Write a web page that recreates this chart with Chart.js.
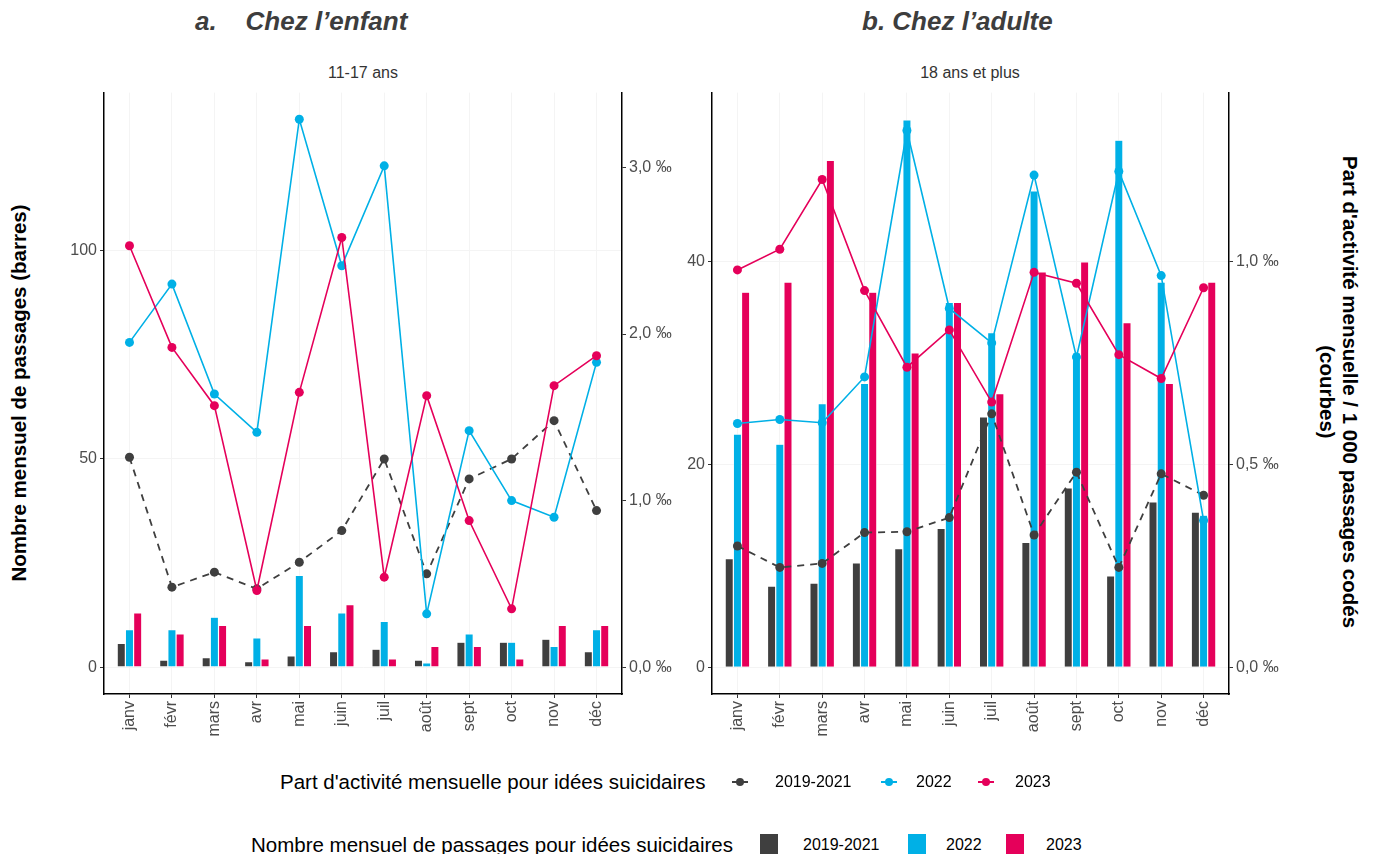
<!DOCTYPE html>
<html>
<head>
<meta charset="utf-8">
<script src="https://cdn.jsdelivr.net/npm/chart.js@4.4.0/dist/chart.umd.min.js"></script>
<style>
body { margin: 0; background: #fff; font-family: "Liberation Sans", Arial, sans-serif; }
#page { position: relative; width: 1374px; height: 854px; overflow: hidden; }
.abs { position: absolute; white-space: nowrap; }
.title { font-size: 26px; font-weight: bold; font-style: italic; color: #3d3d3d; top: 6px; }
.sub { font-size: 16px; color: #333; top: 64px; transform: translateX(-50%); }
.ytitle { font-size: 20.5px; font-weight: bold; color: #000; }
.leg { font-size: 20.5px; color: #000; }
.legy { font-size: 16px; color: #000; }
.sq { position: absolute; width: 18px; height: 22px; }
.box { position: absolute; }
</style>
</head>
<body>
<div id="page">
  <div class="abs title" style="left:195px">a.&nbsp;&nbsp;&nbsp; Chez l’enfant</div>
  <div class="abs title" style="left:862px">b. Chez l’adulte</div>
  <div class="abs sub" style="left:363px">11-17 ans</div>
  <div class="abs sub" style="left:970px">18 ans et plus</div>

  <div class="abs ytitle" style="left:19px;top:393px;transform:translate(-50%,-50%) rotate(-90deg)">Nombre mensuel de passages (barres)</div>
  <div class="abs ytitle" style="left:1339px;top:392px;transform:translate(-50%,-50%) rotate(90deg);text-align:center;line-height:23px">Part d'activité mensuelle / 1 000 passages codés<br>(courbes)</div>

  <div class="box" style="left:0;top:80px;width:690px;height:690px"><canvas id="child"></canvas></div>
  <div class="box" style="left:670px;top:80px;width:630px;height:690px"><canvas id="adult"></canvas></div>

  <div class="abs leg" style="left:280px;top:770px">Part d'activité mensuelle pour idées suicidaires</div>
  <div id="legLines"></div>
  <div class="abs leg" style="left:251px;top:833px">Nombre mensuel de passages pour idées suicidaires</div>
  <div id="legBars"></div>
</div>

<script>
const months = ['janv', 'févr', 'mars', 'avr', 'mai', 'juin', 'juil', 'août', 'sept', 'oct', 'nov', 'déc'];
const series = ['2019-2021', '2022', '2023'];
const colors = ['#3f3f3f', '#00b0e6', '#e5005a'];

// 11-17 ans : nombre mensuel de passages (barres)
const childCount2019 = [5.7, 1.7, 2.3, 1.3, 2.7, 3.7, 4.3, 1.7, 6, 6, 6.7, 3.7];
const childCount2022 = [9, 9, 12, 7, 22, 13, 11, 1, 8, 6, 5, 9];
const childCount2023 = [13, 8, 10, 2, 10, 15, 2, 5, 5, 2, 10, 10];
// 11-17 ans : part d'activité pour 1 000 passages (courbes)
const childRate2019 = [1.26, 0.48, 0.57, 0.47, 0.63, 0.82, 1.25, 0.56, 1.13, 1.25, 1.48, 0.94];
const childRate2022 = [1.95, 2.30, 1.64, 1.41, 3.29, 2.41, 3.01, 0.32, 1.42, 1.00, 0.90, 1.83];
const childRate2023 = [2.53, 1.92, 1.57, 0.46, 1.65, 2.58, 0.54, 1.63, 0.88, 0.35, 1.69, 1.87];

// 18 ans et plus
const adultCount2019 = [10.7, 8, 8.3, 10.3, 11.7, 13.7, 24.7, 12.3, 17.7, 9, 16.3, 15.3];
const adultCount2022 = [23, 22, 26, 28, 54, 36, 33, 47, 31, 52, 38, 15];
const adultCount2023 = [37, 38, 50, 37, 31, 36, 27, 39, 40, 34, 28, 38];
const adultRate2019 = [0.299, 0.246, 0.256, 0.332, 0.334, 0.369, 0.625, 0.326, 0.481, 0.246, 0.477, 0.424];
const adultRate2022 = [0.601, 0.611, 0.603, 0.716, 1.324, 0.885, 0.80, 1.214, 0.765, 1.223, 0.966, 0.362];
const adultRate2023 = [0.980, 1.031, 1.203, 0.929, 0.740, 0.832, 0.654, 0.974, 0.947, 0.771, 0.712, 0.936];

const childCountTicks = [0, 50, 100];
const childRateTicks = [0, 1, 2, 3];
const adultCountTicks = [0, 20, 40];
const adultRateTicks = [0, 0.5, 1];

const pts = arr => arr.map((v, i) => ({ x: i, y: v }));
const fmtRate = v => v.toFixed(1).replace('.', ',') + ' ‰';
const tickFont = { family: '"Liberation Sans", Arial, sans-serif', size: 16 };

function makeChart(id, counts, rates, countTicks, rateTicks, yMin, yMax, leftW, rightW) {
    const datasets = [];
    counts.forEach((c, k) => {
        datasets.push({
            type: 'bar', label: series[k], data: pts(c), yAxisID: 'y',
            backgroundColor: colors[k], borderColor: '#ffffff', borderWidth: 0.6,
            categoryPercentage: 0.58, barPercentage: 1.0, order: 10
        });
    });
    rates.forEach((r, k) => {
        datasets.push({
            type: 'line', label: series[k], data: pts(r), yAxisID: 'y2',
            borderColor: colors[k], backgroundColor: colors[k], borderWidth: k === 0 ? 1.8 : 1.6,
            borderDash: k === 0 ? [7, 6] : [], pointRadius: 4.5, pointBorderWidth: 0,
            tension: 0, order: 3 - k
        });
    });
    // both axes share the same ratio: 40 passages = 1 ‰
    return new Chart(document.getElementById(id), {
        type: 'bar',
        data: { datasets },
        options: {
            responsive: true, maintainAspectRatio: false, animation: false,
            layout: { padding: { top: 10, left: 0, right: 0, bottom: 0 } },
            plugins: { legend: { display: false }, tooltip: { enabled: false } },
            scales: {
                x: {
                    type: 'linear', min: -0.6, max: 11.6, offset: false,
                    afterBuildTicks: s => { s.ticks = months.map((m, i) => ({ value: i })); },
                    afterFit: s => { s.height = 76; },
                    ticks: { callback: v => months[v], minRotation: 90, maxRotation: 90, color: '#4d4d4d', font: tickFont, padding: 3, autoSkip: false },
                    grid: { offset: false, color: '#f4f4f4', tickColor: '#333', tickLength: 4 },
                    border: { color: '#000', width: 1.5 }
                },
                y: {
                    position: 'left', min: yMin, max: yMax,
                    afterBuildTicks: s => { s.ticks = countTicks.map(v => ({ value: v })); },
                    afterFit: s => { s.width = leftW; },
                    ticks: { color: '#4d4d4d', font: tickFont, padding: 3 },
                    grid: { color: '#f4f4f4', tickColor: '#333', tickLength: 4 },
                    border: { color: '#000', width: 1.5 }
                },
                y2: {
                    position: 'right', min: yMin / 40, max: yMax / 40,
                    afterBuildTicks: s => { s.ticks = rateTicks.map(v => ({ value: v })); },
                    afterFit: s => { s.width = rightW; },
                    ticks: { callback: v => fmtRate(v), color: '#4d4d4d', font: tickFont, padding: 3 },
                    grid: { drawOnChartArea: false, tickColor: '#333', tickLength: 4 },
                    border: { color: '#000', width: 1.5 }
                }
            }
        }
    });
}

makeChart('child',
    [childCount2019, childCount2022, childCount2023],
    [childRate2019, childRate2022, childRate2023],
    childCountTicks, childRateTicks, -6.46, 138, 104, 68);

makeChart('adult',
    [adultCount2019, adultCount2022, adultCount2023],
    [adultRate2019, adultRate2022, adultRate2023],
    adultCountTicks, adultRateTicks, -2.65, 56.7, 42, 71);

// legends
const lineLeg = [[740, 775], [889, 916], [986, 1015]];
const barLeg = [[769, 803], [917, 946], [1015, 1046]];
let html = '';
series.forEach((s, k) => {
    const [mx, tx] = lineLeg[k];
    html += '<div class="abs" style="left:' + (mx - 8) + 'px;top:781px;width:16px;height:2px;background:' + colors[k] + '"></div>';
    html += '<div class="abs" style="left:' + (mx - 4) + 'px;top:778px;width:8px;height:8px;border-radius:50%;background:' + colors[k] + '"></div>';
    html += '<div class="abs legy" style="left:' + tx + 'px;top:773px">' + s + '</div>';
});
document.getElementById('legLines').innerHTML = html;
html = '';
series.forEach((s, k) => {
    const [mx, tx] = barLeg[k];
    html += '<div class="sq" style="left:' + (mx - 9) + 'px;top:834px;background:' + colors[k] + '"></div>';
    html += '<div class="abs legy" style="left:' + tx + 'px;top:836px">' + s + '</div>';
});
document.getElementById('legBars').innerHTML = html;
</script>
</body>
</html>
